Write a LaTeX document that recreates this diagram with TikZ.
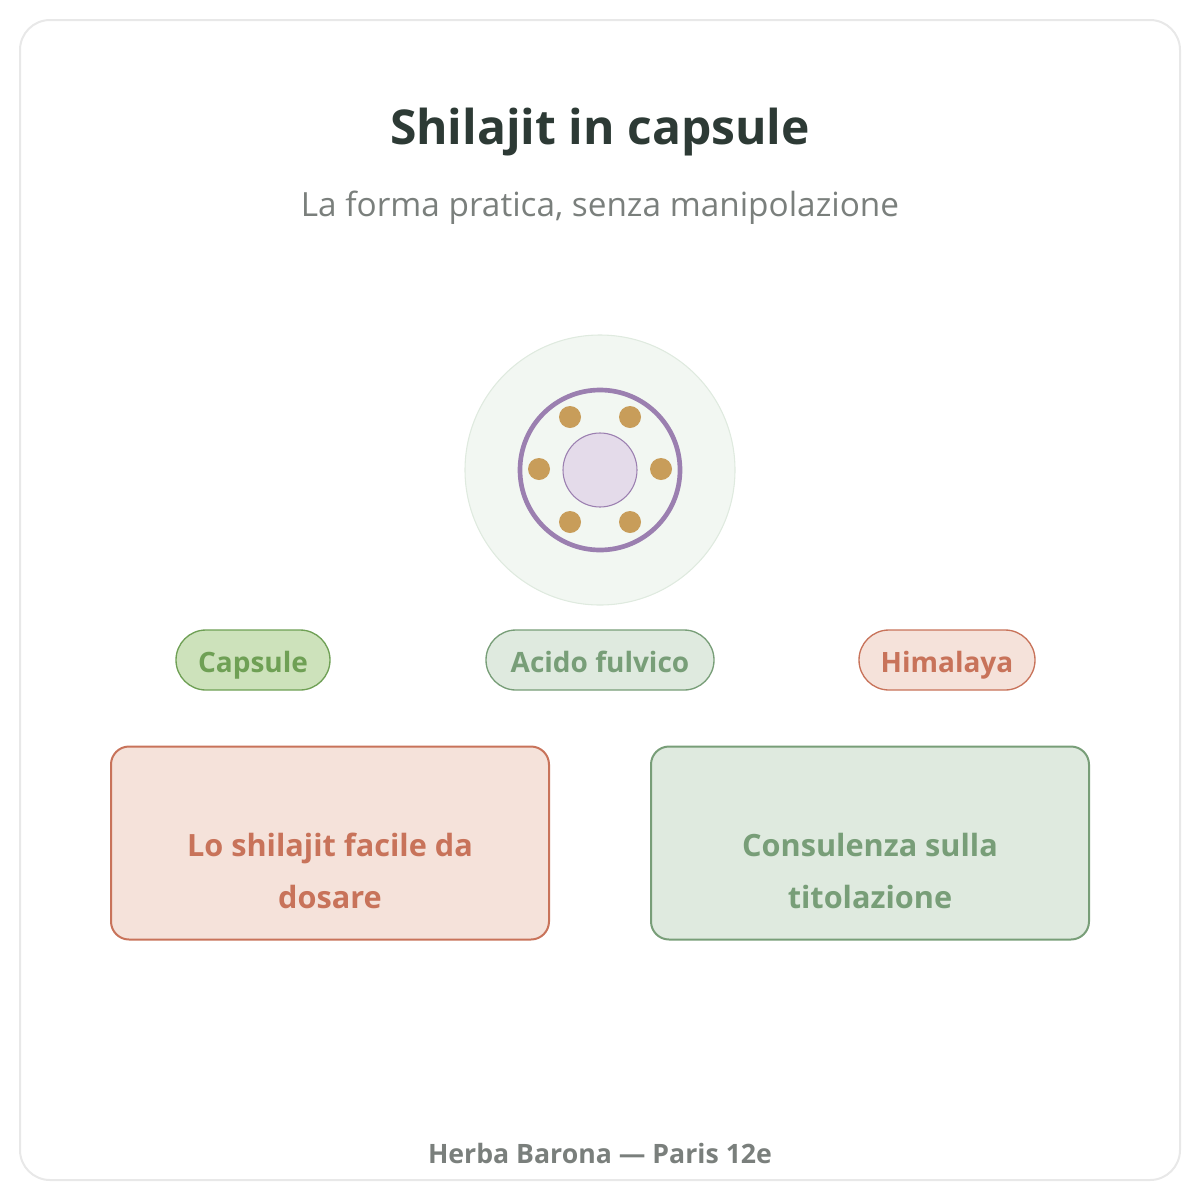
\documentclass[tikz,border=0pt]{standalone}
\usepackage{fontspec}
\setmainfont{Open Sans}
\usetikzlibrary{positioning}
\definecolor{ink}{HTML}{2D3A35}
\definecolor{grey}{HTML}{7A7F7C}
\definecolor{frame}{HTML}{E8E8E8}
\definecolor{plum}{HTML}{9B7FB0}
\definecolor{lilac}{HTML}{E4DBEA}
\definecolor{gold}{HTML}{C89D5A}
\definecolor{leaf}{HTML}{6FA055}
\definecolor{leafbg}{HTML}{CDE2BB}
\definecolor{sage}{HTML}{789E78}
\definecolor{sagebg}{HTML}{DFEADF}
\definecolor{clay}{HTML}{C8735A}
\definecolor{claybg}{HTML}{F5E2DA}
\tikzset{
  pill/.style={rounded corners=30*0.75pt, minimum height=60*0.75pt, line width=1pt, text depth=2pt, text height=20pt, font=\fontsize{21}{25}\selectfont\bfseries},
  card/.style={rounded corners=18*0.75pt, minimum width=438*0.75pt, minimum height=193*0.75pt, line width=1.5pt},
  cardtext/.style={align=center, font=\fontsize{23}{39}\selectfont\bfseries},
  bead/.style={circle, fill=gold, minimum size=22*0.75pt, inner sep=0pt}
}
\begin{document}
\begin{tikzpicture}[x=0.75pt,y=-0.75pt]
        \useasboundingbox (0,0) rectangle (1200,1200);
        \draw[frame, line width=1.5pt, rounded corners=30*0.75pt] (20,20) rectangle (1180,1180);

        \node (title) at (600,132)[ink, font=\fontsize{36}{40}\selectfont\bfseries] {Shilajit in capsule};
        \node (sub) at (600,208)[grey, font=\fontsize{25}{30}\selectfont] {La forma pratica, senza manipolazione};

        \node (disc) at (600,470)[circle, minimum size=270*0.75pt, fill=sagebg!40, draw=sagebg, thick] {};
        \node (ring) at (600,470)[circle, minimum size=160*0.75pt, draw=plum, line width=3.5pt] {};
        \node (core) at (600,470)[circle, minimum size=74*0.75pt, fill=lilac, draw=plum, thick] {};
        \foreach \bx/\by [count=\i] in {570/417, 630/417, 539/469, 661/469, 570/522, 630/522}
            \node (b\i) at (\bx,\by)[bead] {};

        \node (capsule) at (253,660)[pill, minimum width=154*0.75pt, fill=leafbg, draw=leaf, text=leaf] {Capsule};
        \node (acido) at (600,660)[pill, minimum width=228*0.75pt, fill=sagebg, draw=sage, text=sage] {Acido fulvico};
        \node (himalaya) at (947,660)[pill, minimum width=176*0.75pt, fill=claybg, draw=clay, text=clay] {Himalaya};

        \node (dose) at (330,843)[card, fill=claybg, draw=clay] {};
        \node (dosetext) at (330,871)[cardtext, text=clay] {Lo shilajit facile da\\dosare};
        \node (consulto) at (870,843)[card, fill=sagebg, draw=sage] {};
        \node (consultotext) at (870,871)[cardtext, text=sage] {Consulenza sulla\\titolazione};

        \node (footer) at (600,1153)[grey, font=\fontsize{20}{24}\selectfont\bfseries] {Herba Barona — Paris 12e};
\end{tikzpicture}
\end{document}
